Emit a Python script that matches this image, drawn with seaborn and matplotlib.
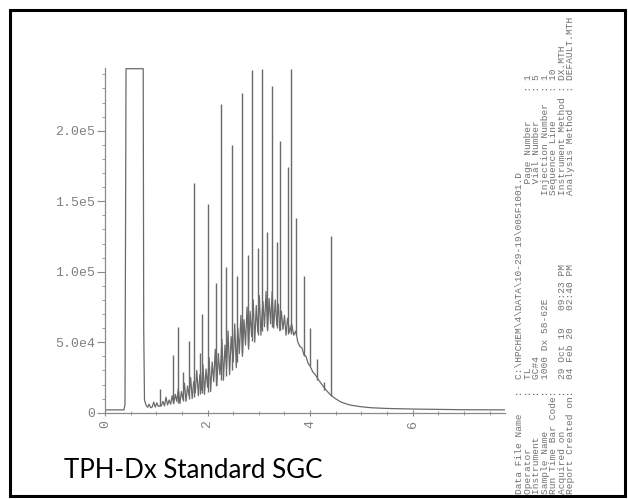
import matplotlib
matplotlib.use("Agg")
import matplotlib.pyplot as plt
import seaborn as sns
import pandas as pd
from matplotlib.patches import Rectangle
from matplotlib.ticker import MultipleLocator

# ---------------- data ----------------
trace_time = [0.00, 0.37, 0.39, 0.41, 0.745, 0.755, 0.77, 0.80, 0.83, 0.86, 0.89, 0.92,
              0.95, 0.98, 1.01, 1.04, 1.10, 1.13, 1.16, 1.19, 1.22, 1.25, 1.28, 1.31,
              1.34, 1.37, 1.40, 1.43, 1.46, 1.49, 1.52, 1.55, 1.58, 1.61, 1.64, 1.67,
              1.70, 1.73, 1.76, 1.79, 1.82, 1.85, 1.88, 1.91, 1.94, 1.97, 2.00, 2.03,
              2.06, 2.09, 2.12, 2.15, 2.18, 2.21, 2.24, 2.26, 2.28, 2.31, 2.34, 2.37,
              2.40, 2.43, 2.46, 2.48, 2.50, 2.53, 2.56, 2.59, 2.62, 2.65, 2.68, 2.71,
              2.74, 2.77, 2.80, 2.83, 2.86, 2.89, 2.92, 2.95, 2.98, 3.01, 3.04, 3.06,
              3.08, 3.11, 3.14, 3.17, 3.20, 3.23, 3.26, 3.29, 3.32, 3.35, 3.38, 3.41,
              3.44, 3.47, 3.50, 3.53, 3.56, 3.60, 3.64, 3.68, 3.72, 3.76, 3.80, 3.84,
              3.88, 3.92, 3.96, 4.00, 4.05, 4.10, 4.15, 4.20, 4.30, 4.40, 4.50, 4.60,
              4.70, 4.80, 5.00, 5.20, 5.50, 6.00, 7.00, 7.80]
trace_signal_k = [2.0, 2.0, 6.0, 244.0, 244.0, 60.0, 9.0, 5.5, 3.8, 6.0, 3.5, 4.0,
                  7.5, 4.0, 7.0, 4.5, 5.0, 8.0, 4.8, 11.0, 5.5, 9.0, 6.0, 12.0,
                  6.5, 13.0, 8.0, 17.0, 6.5, 15.0, 9.5, 21.0, 8.0, 19.0, 12.0, 25.0,
                  10.0, 22.0, 14.0, 30.0, 12.0, 27.0, 16.0, 34.0, 13.0, 31.0, 18.0, 39.0,
                  15.0, 36.0, 22.0, 45.0, 19.0, 42.0, 27.0, 36.0, 52.0, 23.0, 48.0, 31.0,
                  58.0, 27.0, 54.0, 44.0, 36.0, 63.0, 32.0, 60.0, 42.0, 69.0, 40.0, 66.0,
                  48.0, 75.0, 45.0, 72.0, 54.0, 80.0, 50.0, 76.0, 57.0, 83.0, 55.0, 68.0,
                  79.0, 61.0, 86.0, 58.0, 81.0, 63.0, 86.0, 60.0, 80.0, 62.0, 77.0, 58.0,
                  72.0, 59.0, 69.0, 55.0, 67.0, 57.0, 63.0, 55.0, 58.0, 50.0, 47.0, 46.0,
                  41.0, 40.0, 35.0, 33.0, 29.0, 27.0, 24.0, 21.5, 16.5, 12.5, 9.8, 7.6,
                  6.3, 5.3, 4.2, 3.5, 3.0, 2.6, 2.1, 2.0]

peak_time = [1.07, 1.32, 1.42, 1.53, 1.63, 1.73, 1.85, 1.90, 2.00, 2.16, 2.26, 2.36,
             2.47, 2.57, 2.67, 2.78, 2.87, 2.98, 3.07, 3.15, 3.25, 3.35, 3.42, 3.57,
             3.63, 3.73, 3.88, 4.00, 4.14, 4.27, 4.40]
peak_base_k = [5, 7, 7, 8, 10, 11, 13, 14, 15, 20, 23, 26,
               30, 36, 42, 47, 51, 55, 58, 60, 61, 60, 59, 56,
               56, 55, 40, 33, 23, 16, 12]
peak_height_k = [17, 41, 61, 29, 51, 163, 42, 70, 148, 92, 219, 103,
                 190, 97, 227, 112, 243, 117, 244, 128, 232, 121, 193, 174,
                 244, 138, 97, 60, 38, 22, 125]

y_ticks = [0, 50000, 100000, 150000, 200000]
y_tick_labels = ["0", "5.0e4", "1.0e5", "1.5e5", "2.0e5"]
x_ticks = [0, 2, 4, 6]
x_tick_labels = ["0", "2", "4", "6"]

title = "TPH-Dx Standard SGC"
info_left = ["Data File Name   :  C:\\HPCHEM\\4\\DATA\\10-29-19\\005F1001.D",
             "Operator         :  TL",
             "Instrument       :  GC#4",
             "Sample Name      :  1000 Dx 58-62E",
             "Run Time Bar Code:",
             "Acquired on      :  29 Oct 19   09:23 PM",
             "Report Created on:  04 Feb 20   02:40 PM"]
info_right = ["",
              "  Page Number     : 1",
              "  Vial Number     : 5",
              "Injection Number  : 1",
              "Sequence Line     : 10",
              "Instrument Method : DX.MTH",
              "Analysis Method   : DEFAULT.MTH"]

# ---------------- drawing ----------------
sns.set_style("white")
line_col = "#6a6a6a"
axis_col = "#8a8a8a"
mono = ["Liberation Mono", "DejaVu Sans Mono"]

fig = plt.figure(figsize=(6.28, 4.99), dpi=100)
ax = fig.add_axes([105 / 628, 1 - 412.7 / 499, 400 / 628, (412.7 - 68) / 499])

df = pd.DataFrame({"time": trace_time,
                   "signal": [v * 1000 for v in trace_signal_k]})
sns.lineplot(data=df, x="time", y="signal", ax=ax, color=line_col,
             linewidth=0.9, estimator=None, sort=False)
ax.vlines(peak_time, [b * 1000 for b in peak_base_k],
          [h * 1000 for h in peak_height_k], color=line_col, linewidth=1.0)

ax.set_xlim(0, 7.8)
ax.set_ylim(0, 244500)
ax.set_xlabel("")
ax.set_ylabel("")
for s in ["top", "right"]:
    ax.spines[s].set_visible(False)
for s in ["left", "bottom"]:
    ax.spines[s].set_color(axis_col)
    ax.spines[s].set_linewidth(0.9)

ax.set_yticks(y_ticks)
ax.set_yticklabels(y_tick_labels, family=mono, fontsize=9.5, color="#808080")
ax.set_xticks(x_ticks)
ax.set_xticklabels(x_tick_labels, family=mono, fontsize=9.5, color="#808080",
                   rotation=90)
ax.yaxis.set_minor_locator(MultipleLocator(10000))
ax.xaxis.set_minor_locator(MultipleLocator(0.5))
ax.tick_params(axis="y", which="major", direction="out", length=6, width=0.8,
               color=axis_col, pad=1, left=True)
ax.tick_params(axis="y", which="minor", direction="out", length=2.5, width=0.6,
               color=axis_col, left=True)
ax.tick_params(axis="x", which="major", direction="inout", length=5, width=0.8,
               color=axis_col, pad=3, bottom=True)
ax.tick_params(axis="x", which="minor", direction="inout", length=3, width=0.6,
               color=axis_col, bottom=True)

# info block (rotated, monospace)
lines = []
for a, b in zip(info_left, info_right):
    if b:
        lines.append(a.ljust(52) + b)
    else:
        lines.append(a)
fig.text(515 / 628, 1 - 494 / 499, "\n".join(lines), rotation=90,
         family=mono, fontsize=6.8, color="#707070", ha="left", va="bottom",
         linespacing=0.93)

# title label
fig.text(64 / 628, 1 - 478 / 499, title, family=["Lato", "DejaVu Sans"],
         fontsize=18.6, color="black", ha="left", va="baseline")

# frame
fig.add_artist(Rectangle((10 / 628, 3 / 499), 615 / 628, 486 / 499,
                         transform=fig.transFigure, fill=False,
                         edgecolor="black", linewidth=2.2))

fig.savefig("out.png", dpi=100)
